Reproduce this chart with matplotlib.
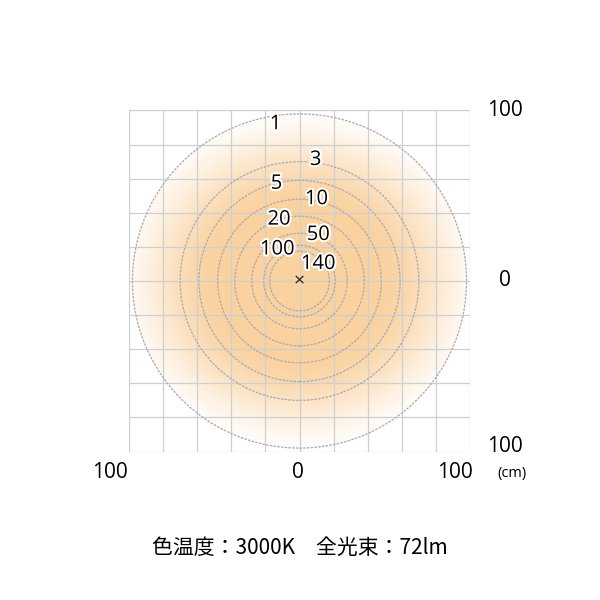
import numpy as np
import matplotlib.pyplot as plt
import matplotlib.patheffects as pe
from matplotlib.patches import Circle

plt.rcParams['font.family'] = ['Open Sans', 'Noto Sans CJK JP', 'DejaVu Sans']

# illuminance contours (lx) and their radius (cm)
lux_levels = ['1', '3', '5', '10', '20', '50', '100', '140']
radii = [98, 70, 59, 48, 38, 28, 21, 17.5]
# label positions (cm)
label_x = [-14, 9.5, -13.5, 10, -12, 11, -13, 11]
label_y = [92, 71, 57, 48, 36, 27, 18.5, 10]

tick_labels = ['100', '0', '100']
caption = '色温度：3000K　全光束：72lm'

fig = plt.figure(figsize=(6, 6), dpi=100)
ax = fig.add_axes([129 / 600, 1 - 452 / 600, 341 / 600, 342 / 600])
ax.set_xlim(-100, 100)
ax.set_ylim(-100, 100)
ax.set_aspect('auto')
ax.axis('off')

# radial gradient fill, a bit wider than tall
n = 400
g = np.linspace(-100, 100, n)
X, Y = np.meshgrid(g, g)
R = np.sqrt((X / 1.08) ** 2 + Y ** 2)
t = np.clip((106 - R) / 62, 0, 1)
t = t * t * (3 - 2 * t)
center_col = np.array([250, 210, 160]) / 255
img = np.ones((n, n, 3)) * (1 - t[..., None]) + center_col * t[..., None]
im = ax.imshow(img, extent=(-100, 100, -100, 100), origin='lower',
               interpolation='bilinear', zorder=0)
clip = Circle((0, 0), radii[0], transform=ax.transData)
im.set_clip_path(clip)

# grid
for v in range(-100, 101, 20):
    ax.plot([v, v], [-100, 100], color='#cfcfcf', lw=0.9, zorder=1)
    ax.plot([-100, 100], [v, v], color='#cfcfcf', lw=0.9, zorder=1)

# contour circles
for r in radii:
    ax.add_patch(Circle((0, 0), r, fill=False, ec='#a9a9b0', lw=0.9,
                        ls=(0, (2, 1)), zorder=2))

for lab, x, y in zip(lux_levels, label_x, label_y):
    ax.text(x, y, lab, fontsize=14.5, ha='center', va='center', color='#000000',
            zorder=4, path_effects=[pe.withStroke(linewidth=3, foreground='white')])

ax.text(0, 0, '×', fontsize=14, ha='center', va='center', color='#222222', zorder=4)

# axis texts
fs = 15
fig.text(505 / 600, 1 - 110 / 600, tick_labels[0], fontsize=fs, ha='center', va='center')
fig.text(505 / 600, 1 - 281 / 600, tick_labels[1], fontsize=fs, ha='center', va='center')
fig.text(505 / 600, 1 - 447 / 600, tick_labels[2], fontsize=fs, ha='center', va='center')
fig.text(512 / 600, 1 - 473 / 600, '(cm)', fontsize=10.5, ha='center', va='center')
fig.text(110 / 600, 1 - 472 / 600, tick_labels[0], fontsize=fs, ha='center', va='center')
fig.text(298 / 600, 1 - 472 / 600, tick_labels[1], fontsize=fs, ha='center', va='center')
fig.text(455 / 600, 1 - 472 / 600, tick_labels[2], fontsize=fs, ha='center', va='center')

fig.text(300 / 600, 1 - 548 / 600, caption, fontsize=15, ha='center', va='center',
         family=['Noto Sans CJK JP', 'DejaVu Sans'])

fig.savefig('out.png', dpi=100)
